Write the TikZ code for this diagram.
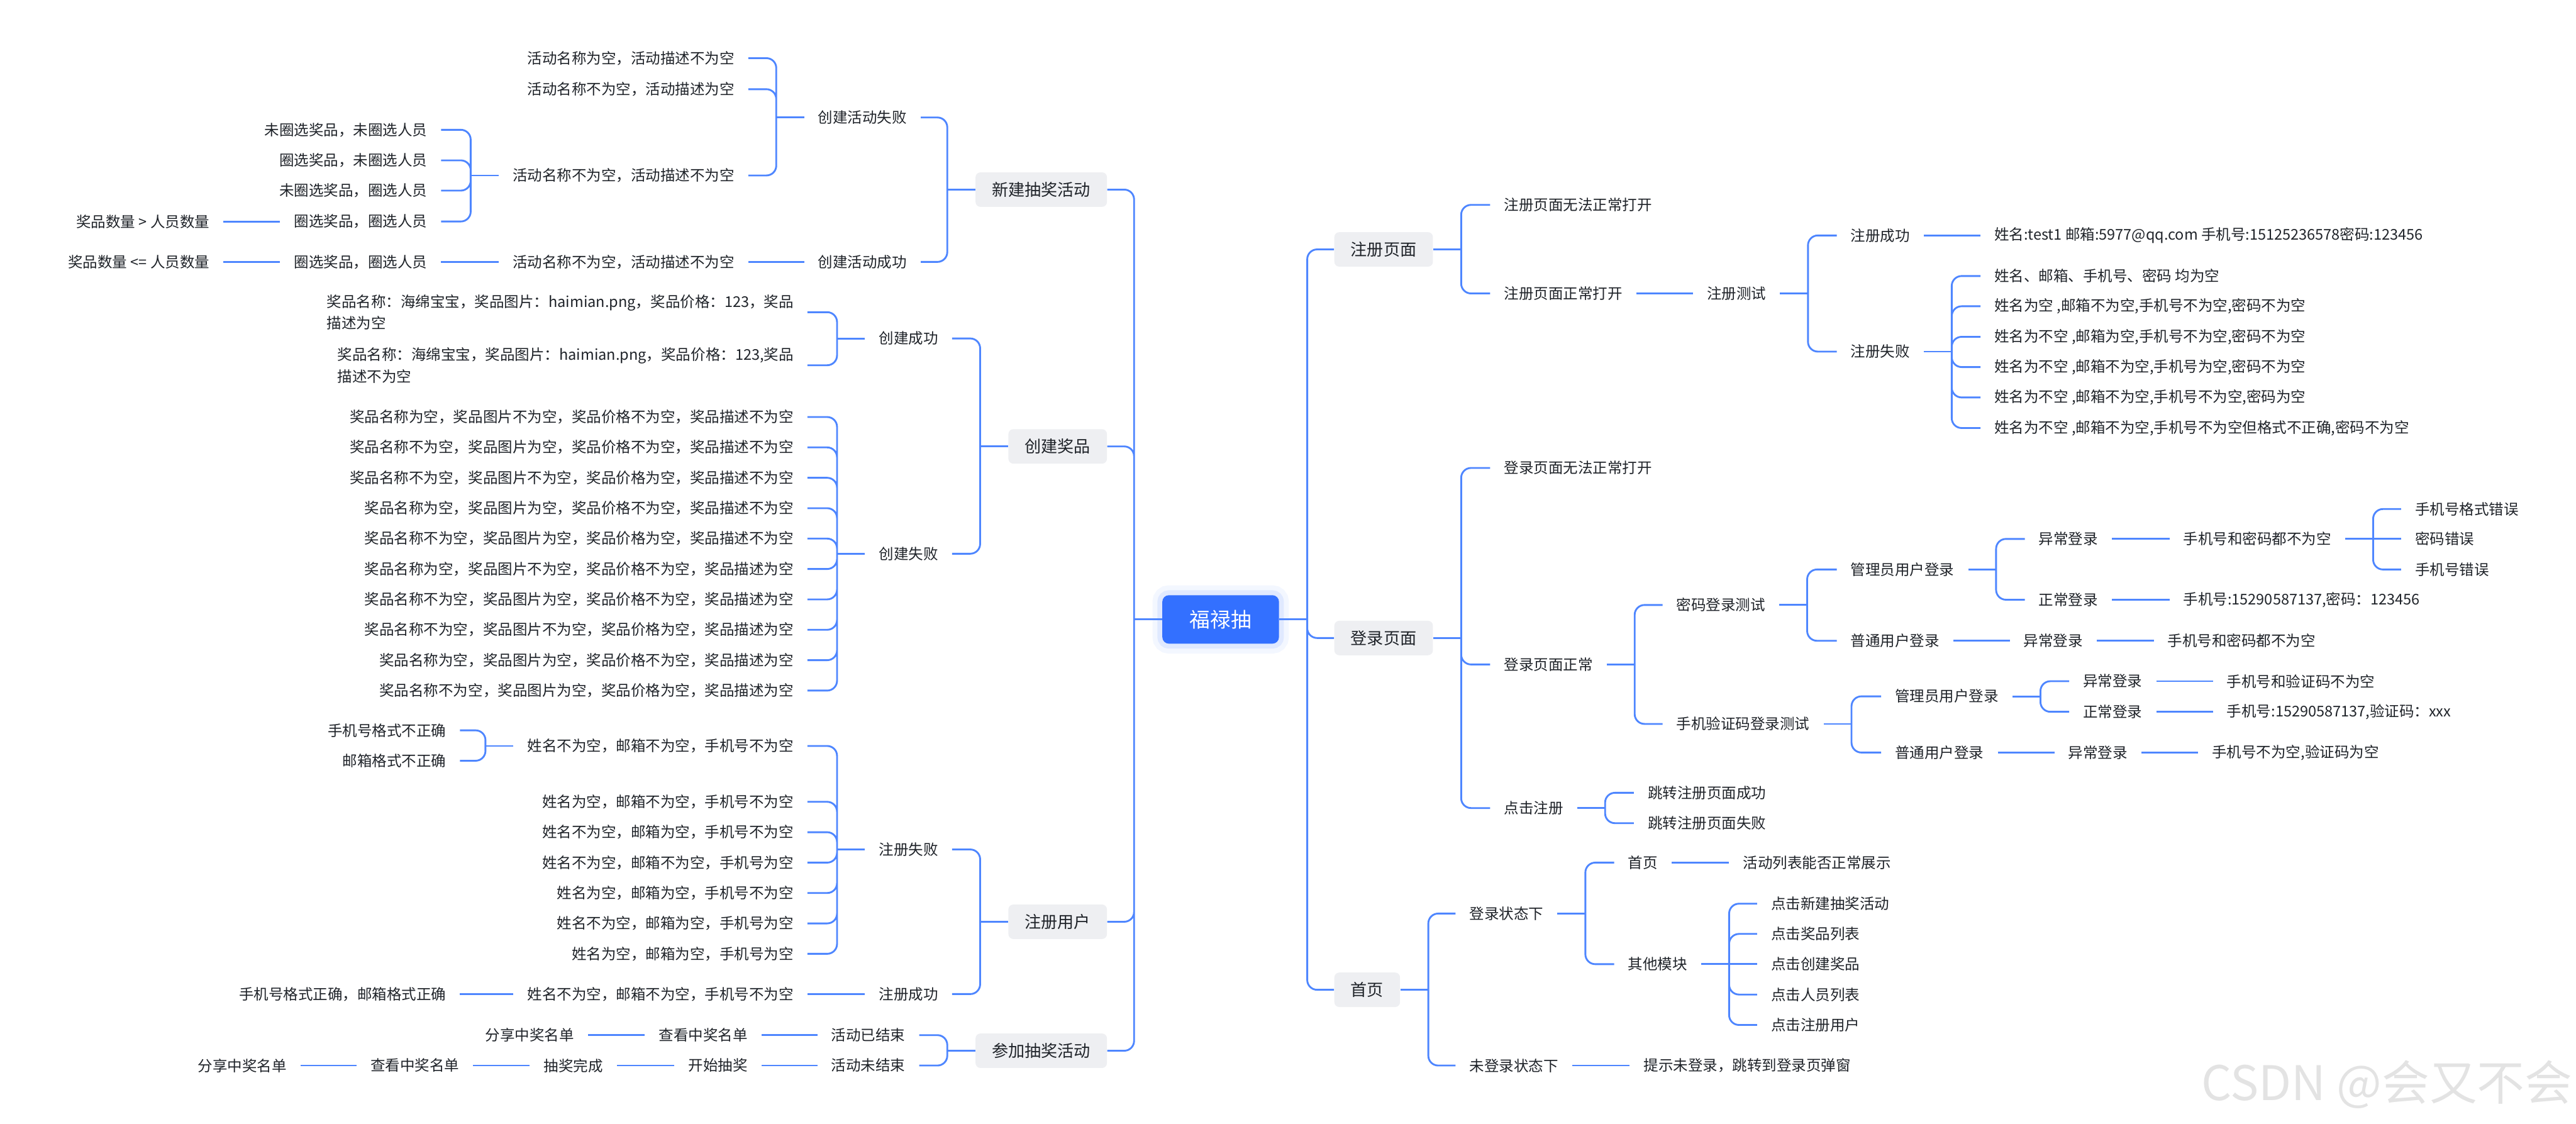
\documentclass[tikz,border=0pt]{standalone}
\usepackage{fontspec}
\setmainfont{Noto Sans CJK SC}
\usepackage{xcolor}
\definecolor{rootblue}{HTML}{3370FF}
\definecolor{wireblue}{HTML}{4E86FF}
\definecolor{topicgrey}{HTML}{EEEFF2}
\definecolor{ink}{HTML}{1F2329}
\definecolor{wmgrey}{HTML}{E3E3E3}
\tikzset{
  rootbox/.style={fill=rootblue, text=white, rounded corners=4pt, inner sep=0pt,
                  minimum width=71pt, minimum height=29.5pt, font=\fontsize{12.5}{14}\selectfont,
                  preaction={draw=rootblue, draw opacity=0.06, line width=12pt},
                  preaction={draw=rootblue, draw opacity=0.10, line width=6pt}},
  topic/.style={fill=topicgrey, text=ink, rounded corners=3pt, inner xsep=10pt, inner ysep=0pt,
                minimum height=21pt, font=\fontsize{10}{12}\selectfont},
  leaf/.style={text=ink, inner sep=0pt, outer xsep=8.5pt, font=\fontsize{9}{13.3}\selectfont},
  wire/.style={draw=wireblue, line width=1.1pt},
  forkwire/.style={wire, rounded corners=6pt},
}

\begin{document}
\begin{tikzpicture}[x=1pt, y=-1pt]
  \useasboundingbox (0,0) rectangle (1568,684);
  % root and main topics
  \node[rootbox] (root) at (743,377) {福禄抽};
  \node[topic, anchor=east] (act) at (674,115.4) {新建抽奖活动};
  \node[topic, anchor=east] (prize) at (674,271.7) {创建奖品};
  \node[topic, anchor=east] (user) at (674,561) {注册用户};
  \node[topic, anchor=east] (join) at (674,639.5) {参加抽奖活动};
  \node[topic, anchor=west] (regpage) at (812,151.8) {注册页面};
  \node[topic, anchor=west] (loginpage) at (812,388.3) {登录页面};
  \node[topic, anchor=west] (home) at (812,602.4) {首页};
  % new lottery activity
  \node[leaf, anchor=east] (actfail) at (560.5,71.5) {创建活动失败};
  \node[leaf, anchor=east] (actok) at (560.5,159.4) {创建活动成功};
  \node[leaf, anchor=east] (af1) at (455.5,35.4) {活动名称为空，活动描述不为空};
  \node[leaf, anchor=east] (af2) at (455.5,54.3) {活动名称不为空，活动描述为空};
  \node[leaf, anchor=east] (af3) at (455.5,106.8) {活动名称不为空，活动描述不为空};
  \node[leaf, anchor=east] (sel1) at (268.5,79) {未圈选奖品，未圈选人员};
  \node[leaf, anchor=east] (sel2) at (268.5,97.6) {圈选奖品，未圈选人员};
  \node[leaf, anchor=east] (sel3) at (268.5,116) {未圈选奖品，圈选人员};
  \node[leaf, anchor=east] (sel4) at (268.5,134.8) {圈选奖品，圈选人员};
  \node[leaf, anchor=east] (cnt1) at (136,134.8) {奖品数量 > 人员数量};
  \node[leaf, anchor=east] (ao1) at (455.5,159.4) {活动名称不为空，活动描述不为空};
  \node[leaf, anchor=east] (ao2) at (268.5,159.4) {圈选奖品，圈选人员};
  \node[leaf, anchor=east] (cnt2) at (136,159.4) {奖品数量 <= 人员数量};
  % create prize
  \node[leaf, anchor=east] (pok) at (579.5,206) {创建成功};
  \node[leaf, anchor=east] (pfail) at (579.5,337) {创建失败};
  \node[leaf, anchor=east, align=left] (pok1) at (491.5,190) {奖品名称：海绵宝宝，奖品图片：haimian.png，奖品价格：123，奖品\\描述为空};
  \node[leaf, anchor=east, align=left] (pok2) at (491.5,222.3) {奖品名称：海绵宝宝，奖品图片：haimian.png，奖品价格：123,奖品\\描述不为空};
  \node[leaf, anchor=east] (pf1) at (491.5,253.8) {奖品名称为空，奖品图片不为空，奖品价格不为空，奖品描述不为空};
  \node[leaf, anchor=east] (pf2) at (491.5,272.3) {奖品名称不为空，奖品图片为空，奖品价格不为空，奖品描述不为空};
  \node[leaf, anchor=east] (pf3) at (491.5,290.8) {奖品名称不为空，奖品图片不为空，奖品价格为空，奖品描述不为空};
  \node[leaf, anchor=east] (pf4) at (491.5,309.3) {奖品名称为空，奖品图片为空，奖品价格不为空，奖品描述不为空};
  \node[leaf, anchor=east] (pf5) at (491.5,327.8) {奖品名称不为空，奖品图片为空，奖品价格为空，奖品描述不为空};
  \node[leaf, anchor=east] (pf6) at (491.5,346.3) {奖品名称为空，奖品图片不为空，奖品价格不为空，奖品描述为空};
  \node[leaf, anchor=east] (pf7) at (491.5,364.8) {奖品名称不为空，奖品图片为空，奖品价格不为空，奖品描述为空};
  \node[leaf, anchor=east] (pf8) at (491.5,383.3) {奖品名称不为空，奖品图片不为空，奖品价格为空，奖品描述为空};
  \node[leaf, anchor=east] (pf9) at (491.5,401.8) {奖品名称为空，奖品图片为空，奖品价格不为空，奖品描述为空};
  \node[leaf, anchor=east] (pf10) at (491.5,420.3) {奖品名称不为空，奖品图片为空，奖品价格为空，奖品描述为空};
  % register user
  \node[leaf, anchor=east] (ufail) at (579.5,517) {注册失败};
  \node[leaf, anchor=east] (uok) at (579.5,605) {注册成功};
  \node[leaf, anchor=east] (uf1) at (491.5,454) {姓名不为空，邮箱不为空，手机号不为空};
  \node[leaf, anchor=east] (fmt1) at (280,444.5) {手机号格式不正确};
  \node[leaf, anchor=east] (fmt2) at (280,463) {邮箱格式不正确};
  \node[leaf, anchor=east] (uf2) at (491.5,488) {姓名为空，邮箱不为空，手机号不为空};
  \node[leaf, anchor=east] (uf3) at (491.5,506.5) {姓名不为空，邮箱为空，手机号不为空};
  \node[leaf, anchor=east] (uf4) at (491.5,525) {姓名不为空，邮箱不为空，手机号为空};
  \node[leaf, anchor=east] (uf5) at (491.5,543.5) {姓名为空，邮箱为空，手机号不为空};
  \node[leaf, anchor=east] (uf6) at (491.5,562) {姓名不为空，邮箱为空，手机号为空};
  \node[leaf, anchor=east] (uf7) at (491.5,580.5) {姓名为空，邮箱为空，手机号为空};
  \node[leaf, anchor=east] (uo1) at (491.5,605) {姓名不为空，邮箱不为空，手机号不为空};
  \node[leaf, anchor=east] (uo2) at (280,605) {手机号格式正确，邮箱格式正确};
  % join lottery
  \node[leaf, anchor=east] (jend) at (559.5,630) {活动已结束};
  \node[leaf, anchor=east] (jrun) at (559.5,648.5) {活动未结束};
  \node[leaf, anchor=east] (je1) at (463.5,630) {查看中奖名单};
  \node[leaf, anchor=east] (je2) at (358,630) {分享中奖名单};
  \node[leaf, anchor=east] (jr1) at (463.5,648.5) {开始抽奖};
  \node[leaf, anchor=east] (jr2) at (375.5,648.5) {抽奖完成};
  \node[leaf, anchor=east] (jr3) at (288,648.5) {查看中奖名单};
  \node[leaf, anchor=east] (jr4) at (183,648.5) {分享中奖名单};
  % register page
  \node[leaf, anchor=west] (rp1) at (907,124.7) {注册页面无法正常打开};
  \node[leaf, anchor=west] (rp2) at (907,178.6) {注册页面正常打开};
  \node[leaf, anchor=west] (rtest) at (1030.5,178.6) {注册测试};
  \node[leaf, anchor=west] (rok) at (1118,143.3) {注册成功};
  \node[leaf, anchor=west] (rok1) at (1205.5,143.3) {姓名:test1 邮箱:5977@qq.com 手机号:15125236578密码:123456};
  \node[leaf, anchor=west] (rfail) at (1118,214) {注册失败};
  \node[leaf, anchor=west] (rf1) at (1205.5,168) {姓名、邮箱、手机号、密码 均为空};
  \node[leaf, anchor=west] (rf2) at (1205.5,186.4) {姓名为空 ,邮箱不为空,手机号不为空,密码不为空};
  \node[leaf, anchor=west] (rf3) at (1205.5,205) {姓名为不空 ,邮箱为空,手机号不为空,密码不为空};
  \node[leaf, anchor=west] (rf4) at (1205.5,223.4) {姓名为不空 ,邮箱不为空,手机号为空,密码不为空};
  \node[leaf, anchor=west] (rf5) at (1205.5,241.9) {姓名为不空 ,邮箱不为空,手机号不为空,密码为空};
  \node[leaf, anchor=west] (rf6) at (1205.5,260.5) {姓名为不空 ,邮箱不为空,手机号不为空但格式不正确,密码不为空};
  % login page
  \node[leaf, anchor=west] (lp1) at (907,284.8) {登录页面无法正常打开};
  \node[leaf, anchor=west] (lp2) at (907,404.4) {登录页面正常};
  \node[leaf, anchor=west] (lp3) at (907,491.8) {点击注册};
  \node[leaf, anchor=west] (pwd) at (1012,368.2) {密码登录测试};
  \node[leaf, anchor=west] (sms) at (1012,440.6) {手机验证码登录测试};
  \node[leaf, anchor=west] (pwdadm) at (1118,346.6) {管理员用户登录};
  \node[leaf, anchor=west] (pwdusr) at (1118,390) {普通用户登录};
  \node[leaf, anchor=west] (pabad) at (1232.5,328) {异常登录};
  \node[leaf, anchor=west] (pagood) at (1232.5,365) {正常登录};
  \node[leaf, anchor=west] (pabad1) at (1320.5,328) {手机号和密码都不为空};
  \node[leaf, anchor=west] (pagood1) at (1320.5,365) {手机号:15290587137,密码：123456};
  \node[leaf, anchor=west] (pe1) at (1461.5,309.8) {手机号格式错误};
  \node[leaf, anchor=west] (pe2) at (1461.5,328) {密码错误};
  \node[leaf, anchor=west] (pe3) at (1461.5,346.6) {手机号错误};
  \node[leaf, anchor=west] (pu1) at (1223.3,390) {异常登录};
  \node[leaf, anchor=west] (pu2) at (1311,390) {手机号和密码都不为空};
  \node[leaf, anchor=west] (smsadm) at (1145,423.8) {管理员用户登录};
  \node[leaf, anchor=west] (smsusr) at (1145,458) {普通用户登录};
  \node[leaf, anchor=west] (sabad) at (1259.5,414.6) {异常登录};
  \node[leaf, anchor=west] (sagood) at (1259.5,433.2) {正常登录};
  \node[leaf, anchor=west] (sabad1) at (1347,414.6) {手机号和验证码不为空};
  \node[leaf, anchor=west] (sagood1) at (1347,433.2) {手机号:15290587137,验证码：xxx};
  \node[leaf, anchor=west] (su1) at (1250.5,458) {异常登录};
  \node[leaf, anchor=west] (su2) at (1338,458) {手机号不为空,验证码为空};
  \node[leaf, anchor=west] (jump1) at (994.5,482.5) {跳转注册页面成功};
  \node[leaf, anchor=west] (jump2) at (994.5,501) {跳转注册页面失败};
  % home page
  \node[leaf, anchor=west] (hs1) at (886,556) {登录状态下};
  \node[leaf, anchor=west] (hs2) at (886,648.5) {未登录状态下};
  \node[leaf, anchor=west] (hm) at (982.5,525) {首页};
  \node[leaf, anchor=west] (hm1) at (1052.5,525) {活动列表能否正常展示};
  \node[leaf, anchor=west] (other) at (982.5,586.8) {其他模块};
  \node[leaf, anchor=west] (ot1) at (1069.5,550) {点击新建抽奖活动};
  \node[leaf, anchor=west] (ot2) at (1069.5,568.4) {点击奖品列表};
  \node[leaf, anchor=west] (ot3) at (1069.5,586.8) {点击创建奖品};
  \node[leaf, anchor=west] (ot4) at (1069.5,605.3) {点击人员列表};
  \node[leaf, anchor=west] (ot5) at (1069.5,623.8) {点击注册用户};
  \node[leaf, anchor=west] (hs21) at (992,648.5) {提示未登录，跳转到登录页弹窗};
  % watermark
  \node[anchor=east, text=wmgrey, inner sep=0pt, font=\fontsize{29}{30}\selectfont] (wm) at (1566,660) {CSDN @会又不会};

  % connectors, left half
  \draw[wire] (root.west) -- ++(-17,0) coordinate (rootl);
  \draw[forkwire] (rootl) |- (act.east) (rootl) |- (prize.east) (rootl) |- (user.east) (rootl) |- (join.east);
  \draw[wire] (act.west) -- ++(-17,0) coordinate (actj);
  \draw[forkwire] (actj) |- (actfail.east) (actj) |- (actok.east);
  \draw[wire] (actfail.west) -- ++(-17,0) coordinate (actfailj);
  \draw[forkwire] (actfailj) |- (af1.east) (actfailj) |- (af2.east) (actfailj) |- (af3.east);
  \draw[wire] (af3.west) -- ++(-17,0) coordinate (af3j);
  \draw[forkwire] (af3j) |- (sel1.east) (af3j) |- (sel2.east) (af3j) |- (sel3.east) (af3j) |- (sel4.east);
  \draw[wire] (sel4.west) -- (cnt1.east);
  \draw[wire] (actok.west) -- (ao1.east);
  \draw[wire] (ao1.west) -- (ao2.east);
  \draw[wire] (ao2.west) -- (cnt2.east);
  \draw[wire] (prize.west) -- ++(-17,0) coordinate (prizej);
  \draw[forkwire] (prizej) |- (pok.east) (prizej) |- (pfail.east);
  \draw[wire] (pok.west) -- ++(-17,0) coordinate (pokj);
  \draw[forkwire] (pokj) |- (pok1.east) (pokj) |- (pok2.east);
  \draw[wire] (pfail.west) -- ++(-17,0) coordinate (pfailj);
  \draw[forkwire] (pfailj) |- (pf1.east) (pfailj) |- (pf2.east) (pfailj) |- (pf3.east) (pfailj) |- (pf4.east) (pfailj) |- (pf5.east)
                  (pfailj) |- (pf6.east) (pfailj) |- (pf7.east) (pfailj) |- (pf8.east) (pfailj) |- (pf9.east) (pfailj) |- (pf10.east);
  \draw[wire] (user.west) -- ++(-17,0) coordinate (userj);
  \draw[forkwire] (userj) |- (ufail.east) (userj) |- (uok.east);
  \draw[wire] (ufail.west) -- ++(-17,0) coordinate (ufailj);
  \draw[forkwire] (ufailj) |- (uf1.east) (ufailj) |- (uf2.east) (ufailj) |- (uf3.east) (ufailj) |- (uf4.east)
                  (ufailj) |- (uf5.east) (ufailj) |- (uf6.east) (ufailj) |- (uf7.east);
  \draw[wire] (uf1.west) -- ++(-17,0) coordinate (uf1j);
  \draw[forkwire] (uf1j) |- (fmt1.east) (uf1j) |- (fmt2.east);
  \draw[wire] (uok.west) -- (uo1.east);
  \draw[wire] (uo1.west) -- (uo2.east);
  \draw[wire] (join.west) -- ++(-17,0) coordinate (joinj);
  \draw[forkwire] (joinj) |- (jend.east) (joinj) |- (jrun.east);
  \draw[wire] (jend.west) -- (je1.east);
  \draw[wire] (je1.west) -- (je2.east);
  \draw[wire] (jrun.west) -- (jr1.east);
  \draw[wire] (jr1.west) -- (jr2.east);
  \draw[wire] (jr2.west) -- (jr3.east);
  \draw[wire] (jr3.west) -- (jr4.east);

  % connectors, right half
  \draw[wire] (root.east) -- ++(17,0) coordinate (rootr);
  \draw[forkwire] (rootr) |- (regpage.west) (rootr) |- (loginpage.west) (rootr) |- (home.west);
  \draw[wire] (regpage.east) -- ++(17,0) coordinate (regj);
  \draw[forkwire] (regj) |- (rp1.west) (regj) |- (rp2.west);
  \draw[wire] (rp2.east) -- (rtest.west);
  \draw[wire] (rtest.east) -- ++(17,0) coordinate (rtestj);
  \draw[forkwire] (rtestj) |- (rok.west) (rtestj) |- (rfail.west);
  \draw[wire] (rok.east) -- (rok1.west);
  \draw[wire] (rfail.east) -- ++(17,0) coordinate (rfailj);
  \draw[forkwire] (rfailj) |- (rf1.west) (rfailj) |- (rf2.west) (rfailj) |- (rf3.west) (rfailj) |- (rf4.west)
                  (rfailj) |- (rf5.west) (rfailj) |- (rf6.west);
  \draw[wire] (loginpage.east) -- ++(17,0) coordinate (loginj);
  \draw[forkwire] (loginj) |- (lp1.west) (loginj) |- (lp2.west) (loginj) |- (lp3.west);
  \draw[wire] (lp2.east) -- ++(17,0) coordinate (lp2j);
  \draw[forkwire] (lp2j) |- (pwd.west) (lp2j) |- (sms.west);
  \draw[wire] (pwd.east) -- ++(17,0) coordinate (pwdj);
  \draw[forkwire] (pwdj) |- (pwdadm.west) (pwdj) |- (pwdusr.west);
  \draw[wire] (pwdadm.east) -- ++(17,0) coordinate (pwdadmj);
  \draw[forkwire] (pwdadmj) |- (pabad.west) (pwdadmj) |- (pagood.west);
  \draw[wire] (pabad.east) -- (pabad1.west);
  \draw[wire] (pagood.east) -- (pagood1.west);
  \draw[wire] (pabad1.east) -- ++(17,0) coordinate (pabad1j);
  \draw[forkwire] (pabad1j) |- (pe1.west) (pabad1j) |- (pe3.west);
  \draw[wire] (pabad1j) -- (pe2.west);
  \draw[wire] (pwdusr.east) -- (pu1.west);
  \draw[wire] (pu1.east) -- (pu2.west);
  \draw[wire] (sms.east) -- ++(17,0) coordinate (smsj);
  \draw[forkwire] (smsj) |- (smsadm.west) (smsj) |- (smsusr.west);
  \draw[wire] (smsadm.east) -- ++(17,0) coordinate (smsadmj);
  \draw[forkwire] (smsadmj) |- (sabad.west) (smsadmj) |- (sagood.west);
  \draw[wire] (sabad.east) -- (sabad1.west);
  \draw[wire] (sagood.east) -- (sagood1.west);
  \draw[wire] (smsusr.east) -- (su1.west);
  \draw[wire] (su1.east) -- (su2.west);
  \draw[wire] (lp3.east) -- ++(17,0) coordinate (lp3j);
  \draw[forkwire] (lp3j) |- (jump1.west) (lp3j) |- (jump2.west);
  \draw[wire] (home.east) -- ++(17,0) coordinate (homej);
  \draw[forkwire] (homej) |- (hs1.west) (homej) |- (hs2.west);
  \draw[wire] (hs1.east) -- ++(17,0) coordinate (hs1j);
  \draw[forkwire] (hs1j) |- (hm.west) (hs1j) |- (other.west);
  \draw[wire] (hm.east) -- (hm1.west);
  \draw[wire] (other.east) -- ++(17,0) coordinate (otherj);
  \draw[forkwire] (otherj) |- (ot1.west) (otherj) |- (ot2.west) (otherj) |- (ot4.west) (otherj) |- (ot5.west);
  \draw[wire] (otherj) -- (ot3.west);
  \draw[wire] (hs2.east) -- (hs21.west);
\end{tikzpicture}
\end{document}
